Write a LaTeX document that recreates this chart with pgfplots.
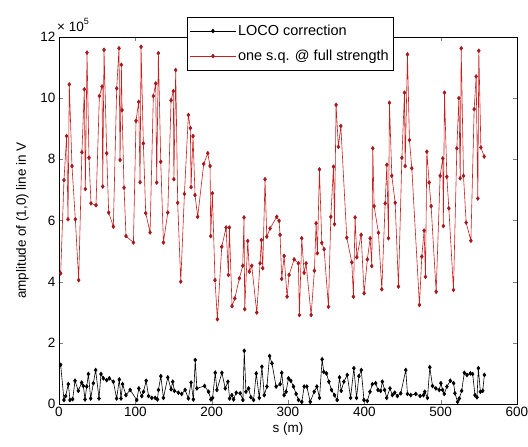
\documentclass[border=0pt]{standalone}
\usepackage{pgfplots}
\pgfplotsset{compat=1.18}
\usepackage{fontspec}
\setmainfont{Liberation Sans}
\definecolor{redline}{RGB}{200,30,30}
\definecolor{redmark}{RGB}{165,25,30}
\begin{document}
\begin{tikzpicture}
\begin{axis}[
  at={(59pt,43pt)}, anchor=south west,
  scale only axis, width=458pt, height=367pt,
  xmin=0, xmax=600, ymin=0, ymax=12,
  xtick={0,100,...,600}, ytick={0,2,...,12},
  tick pos=both, tick align=inside,
  major tick length=4pt,
  clip=false,
  /pgf/number format/assume math mode=true,
  tick label style={font=\fontsize{13.5}{16}\selectfont},
  xlabel={s (m)}, ylabel={amplitude of (1,0) line in V},
  label style={font=\fontsize{13.5}{16}\selectfont},
  xlabel style={yshift=1pt},
  ylabel style={yshift=5pt},
  legend style={at={(rel axis cs:0.505,1.055)}, anchor=north, font=\fontsize{14.5}{16}\selectfont, draw=black, inner xsep=3pt, inner ysep=6pt, row sep=9pt},
  legend cell align=left,
  legend image code/.code={\draw[mark repeat=2,mark phase=2] plot coordinates {(0cm,0cm)(0.8cm,0cm)(1.6cm,0cm)};},
]
\addplot[black, line width=0.6pt, mark=diamond*, mark size=1.9pt, mark options={fill=black}] coordinates {
(2.2,1.28)(6.5,0.13)(8.7,0.26)(12.2,0.65)(14.4,0.13)(17.9,0.16)(21,0.76)(25.3,0.43)(29.7,0.7)(31.9,0.59)
(34.1,0.15)(36.3,0.57)(38.5,0.98)(41.5,0.18)(45,0.68)(48,1.11)(52.4,0.18)(55,0.98)(58.1,0.84)(62.5,0.78)
(65.9,0.84)(71.2,0.73)(75.5,0.18)(79,0.8)(81.2,0.18)(83.3,0.65)(87.7,0.29)(93.2,0.46)(101.9,0.13)(104.6,0.51)
(108.5,0.26)(110.7,0.40)(114.2,0.76)(117.3,0.26)(121.6,0.2)(126,0.2)(129,0.15)(130.3,0.46)(133.4,0.91)(136.8,0.2)
(142.5,0.87)(146.9,0.48)(149,0.73)(151.2,0.43)(156.4,0.37)(160.8,0.33)(165.2,0.46)(169.5,0.18)(173,0.7)(176,0.15)
(178.5,1.44)(180.6,0.51)(190.7,0.59)(195.9,0.4)(199,0.15)(201.2,0.2)(204.7,1.02)(206.9,0.46)(213.4,1.02)(217.8,0.51)
(221.3,0.73)(223.5,0.18)(226.5,0.29)(228.7,0.15)(232.2,0.37)(237.4,0.35)(240.9,0.13)(242.7,1.74)(244.9,0.4)(248.4,0.51)
(251.4,0.22)(254.9,0.13)(258.4,1.0)(262.4,0.2)(265.8,1.22)(268.9,0.29)(272.4,0.57)(275.9,1.57)(279,1.33)(284.4,0.57)
(289.7,0.65)(291.8,1.02)(294.9,0.29)(297.5,0.40)(300.6,0.84)(303.7,0.76)(307.2,0.57)(310.7,0.33)(313.8,0.13)(318.1,0.07)
(321.2,0.57)(324.7,0.57)(329.1,0.07)(334.3,0.40)(337.8,0.57)(341.3,0.2)(344.7,1.46)(346.9,1.05)(350.4,1.0)(353.5,0.73)
(357,0.46)(360.9,0.29)(364.4,0.13)(367.5,0.87)(369.7,0.43)(373.2,0.73)(377.6,0.95)(382,0.2)(386.3,1.17)(389.8,0.2)
(392.9,0.91)(396,1.11)(399.5,0.13)(403.9,0.1)(407.4,0.40)(410.5,0.65)(414.8,0.68)(417.9,0.46)(421.4,0.43)(423.6,0.73)
(426.6,0.46)(429.3,0.2)(433.6,0.51)(436.7,0.29)(439.8,0.37)(443.3,0.26)(447.7,0.35)(454.3,1.11)(456.5,0.33)(460.8,0.29)
(467.4,0.33)(473.1,0.26)(477.5,0.29)(479.2,0.40)(482.7,0.2)(485.8,1.2)(489.3,0.59)(493.7,0.51)(498.1,0.46)(500.3,0.68)
(502.5,0.46)(504.7,0.33)(508.2,0.57)(512.6,0.76)(517,0.68)(518.7,0.35)(522.2,0.07)(524.4,0.18)(527.5,0.43)(531,1.02)
(534.5,0.95)(538.9,1.0)(541.9,0.98)(545,0.29)(547.6,0.22)(549.4,1.17)(552,0.40)(555.1,0.43)(557.3,0.95)
};
\addlegendentry{LOCO correction}
\addplot[redline, line width=0.6pt, mark=diamond*, mark size=1.9pt, mark options={fill=redmark, draw=redmark}] coordinates {
(2.2,4.27)(6.5,7.32)(10,8.76)(11.8,6.04)(13.5,10.45)(17,7.78)(21.4,6.04)(25.8,4.05)(30,8.23)(33.2,10.29)
(34.5,7.03)(36.7,11.49)(39.3,8.05)(41.9,6.56)(48.5,6.5)(52.9,10.07)(56.4,10.38)(57.3,7.11)(59,11.58)(62.5,8.2)
(65.1,6.26)(71.2,5.8)(75.6,10.32)(78.6,11.63)(80,7.98)(81.7,11.09)(82.6,9.61)(85.2,7.07)(87.8,5.49)(97.5,5.28)
(100.9,9.26)(104.4,9.88)(106.2,7.25)(107.5,11.68)(110.5,8.52)(113.6,6.24)(119.3,5.61)(123.6,10.07)(126.7,10.48)(128,7.24)
(130.2,11.47)(133.3,7.92)(136.8,5.28)(142.5,6.26)(146.8,9.93)(149.8,10.23)(150.5,7.35)(152.9,10.92)(155.5,6.58)(159.5,4.0)
(164.3,6.87)(169.5,9.45)(172.1,9.02)(173,7.09)(175.6,8.76)(178.2,6.83)(181.7,6.12)(189.6,7.85)(194.9,8.2)(197.9,7.78)
(198.8,5.49)(200.9,6.89)(204.4,4.05)(207.5,2.77)(213.2,5.14)(218.9,5.77)(221.9,4.22)(223.2,5.77)(226.7,3.2)(230.3,3.45)
(236.3,4.11)(240.7,4.52)(242.4,6.1)(243.3,3.1)(247.3,5.33)(249.4,4.33)(252.5,4.52)(259.1,2.99)(263.4,4.6)(265.1,5.36)
(266.9,4.44)(269.9,7.35)(272.2,5.47)(276.5,5.74)(285.3,6.12)(288.3,5.99)(289.6,5.53)(291.8,4.09)(294.9,4.84)(298.8,3.51)
(301.4,4.22)(308,4.73)(313.6,4.6)(314.9,2.91)(318,5.42)(321.1,4.29)(323.7,4.6)(330.3,2.91)(334.6,4.36)(336.8,5.91)
(338.5,4.93)(341.2,7.67)(344.3,5.27)(347.3,5.06)(353,3.18)(356.1,6.12)(359.6,7.76)(360.9,5.88)(363,9.78)(366,8.41)
(369.2,9.09)(377,5.44)(383.6,4.63)(385.7,3.51)(387.9,6.1)(390.2,4.8)(395.8,5.53)(399.7,3.62)(404,4.73)(407.6,5.42)
(409.8,4.51)(411.1,8.36)(412.8,6.47)(418.5,5.6)(422.9,3.75)(427.3,6.56)(429.5,7.82)(431.6,5.42)(432.9,9.85)(436,7.46)
(440.4,6.58)(444.7,3.84)(449.2,8.05)(452.6,10.18)(453.5,7.78)(456.5,11.43)(459.1,8.63)(462.2,7.71)(472.2,3.24)(475.3,4.82)
(478.3,5.67)(480.1,4.16)(481.9,8.25)(484.9,7.24)(487.5,6.47)(494.1,3.67)(499.3,7.46)(502.8,8.03)(503.5,5.82)(505,10.18)
(508.1,7.43)(510.7,6.4)(516.8,3.73)(521.2,8.36)(523.9,10)(525.6,7.38)(526.9,11.63)(529.9,7.46)(533.4,5.93)(539.6,5.34)
(543.9,9.64)(546.5,10.71)(548.7,6.72)(550,11.55)(552.7,8.39)(557,8.09)
};
\addlegendentry{one s.q. @ full strength}
\node[anchor=south west, inner sep=0pt, font=\fontsize{13.5}{16}\selectfont] at ([xshift=-2pt,yshift=5pt]rel axis cs:0,1) {× 10\raisebox{7pt}{\fontsize{9}{10}\selectfont 5}};
\end{axis}
\pgfresetboundingbox
\path (0,0) rectangle (528pt,447pt);
\end{tikzpicture}
\end{document}
